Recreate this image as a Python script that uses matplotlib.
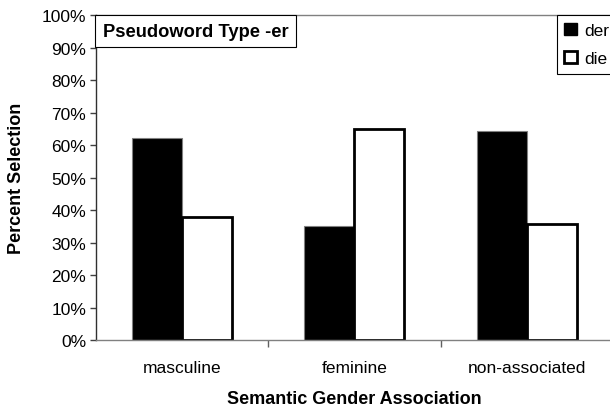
import matplotlib
matplotlib.use('Agg')
import matplotlib.pyplot as plt
from matplotlib.patches import Patch
import numpy as np

plt.rcParams['font.family'] = ['Liberation Sans', 'DejaVu Sans']

# data
categories = ['masculine', 'feminine', 'non-associated']
der_pct = [62.2, 35.1, 64.3]
die_pct = [37.8, 64.9, 35.7]

fig = plt.figure(figsize=(6.1, 4.1), dpi=100)
ax = fig.add_axes([0.157, 0.168, 0.848, 0.793])

x = np.arange(len(categories))
w = 0.29
ax.bar(x - w / 2, np.array(der_pct) / 100, w, color='black', edgecolor='#808080', linewidth=0.8, zorder=2)
ax.bar(x + w / 2, np.array(die_pct) / 100, w, color='white', edgecolor='black', linewidth=2, zorder=2)

ax.set_xlim(-0.5, 2.5)
ax.set_ylim(0, 1)

# y axis
ax.set_yticks(np.arange(0, 1.01, 0.1))
ax.set_yticklabels(['%d%%' % v for v in range(0, 101, 10)])
ax.tick_params(axis='y', direction='out', length=4, width=1, color='#404040', labelsize=12.5, pad=3)

# x axis: ticks between categories, labels at centres
ax.set_xticks([0.5, 1.5, 2.5])
ax.set_xticklabels(['', '', ''])
ax.set_xticks(x, minor=True)
ax.set_xticklabels(categories, minor=True)
ax.tick_params(axis='x', which='major', direction='out', length=5, width=1, color='#606060')
ax.tick_params(axis='x', which='minor', length=0, labelsize=12.5, pad=14)

for s in ['top', 'bottom']:
    ax.spines[s].set_color('#808080')
    ax.spines[s].set_linewidth(1)
ax.spines['left'].set_color('#303030')
ax.spines['left'].set_linewidth(1)
ax.spines['right'].set_visible(False)

ax.set_ylabel('Percent Selection', fontsize=13, fontweight='bold', labelpad=12)
ax.set_xlabel('Semantic Gender Association', fontsize=13, fontweight='bold', labelpad=11)

# title box in the top-left corner
ax.annotate('Pseudoword Type -er', xy=(0, 1), xycoords='axes fraction',
            xytext=(5.2, -5.6), textcoords='offset points', ha='left', va='top',
            fontsize=13.2, fontweight='bold',
            bbox=dict(boxstyle='square,pad=0.42', facecolor='white', edgecolor='black', linewidth=0.8))

handles = [Patch(facecolor='black', edgecolor='black', label='der'),
           Patch(facecolor='white', edgecolor='black', linewidth=2, label='die')]
leg = ax.legend(handles=handles, loc='upper right', bbox_to_anchor=(1.008, 1.0), borderaxespad=0,
                fontsize=12.5, handlelength=0.7, handleheight=0.7, handletextpad=0.45,
                labelspacing=0.75, borderpad=0.45, fancybox=False, framealpha=1)
leg.get_frame().set_edgecolor('black')
leg.get_frame().set_linewidth(0.8)

fig.savefig('out.png', dpi=100)
